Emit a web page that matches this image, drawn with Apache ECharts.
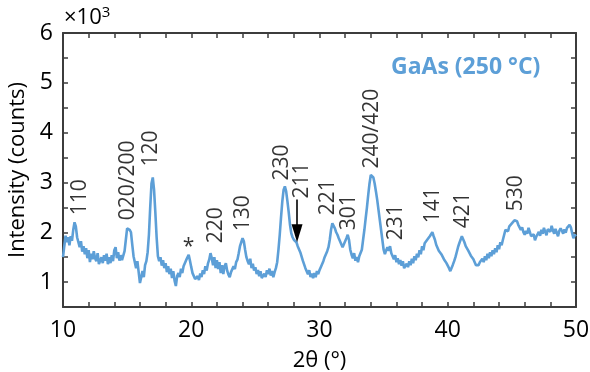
<!DOCTYPE html>
<html>
<head>
<meta charset="utf-8">
<style>
  html, body { margin: 0; padding: 0; background: #fff; }
  #chart { width: 590px; height: 372px; }
</style>
<script src="https://cdn.jsdelivr.net/npm/echarts@6/dist/echarts.min.js"></script>
</head>
<body>
<div id="chart"></div>
<script>
// XRD pattern of GaAs deposited at 250 °C; intensity in units of 10^3 counts
const twoTheta = [
  10.0,10.1,10.2,10.3,10.4,10.5,10.6,10.7,10.8,10.9,11.0,11.1,11.2,11.3,11.4,11.5,11.6,11.7,11.8,11.9,
  12.0,12.1,12.2,12.3,12.4,12.5,12.6,12.7,12.8,12.9,13.0,13.1,13.2,13.3,13.4,13.5,13.6,13.7,13.8,13.9,
  14.0,14.1,14.2,14.3,14.4,14.5,14.6,14.7,14.8,14.9,15.0,15.1,15.2,15.3,15.4,15.5,15.6,15.7,15.8,15.9,
  16.0,16.1,16.2,16.3,16.4,16.5,16.6,16.7,16.8,16.9,17.0,17.1,17.2,17.3,17.4,17.5,17.6,17.7,17.8,17.9,
  18.0,18.1,18.2,18.3,18.4,18.5,18.6,18.7,18.8,18.9,19.0,19.1,19.2,19.3,19.4,19.5,19.6,19.7,19.8,19.9,
  20.0,20.1,20.2,20.3,20.4,20.5,20.6,20.7,20.8,20.9,21.0,21.1,21.2,21.3,21.4,21.5,21.6,21.7,21.8,21.9,
  22.0,22.1,22.2,22.3,22.4,22.5,22.6,22.7,22.8,22.9,23.0,23.1,23.2,23.3,23.4,23.5,23.6,23.7,23.8,23.9,
  24.0,24.1,24.2,24.3,24.4,24.5,24.6,24.7,24.8,24.9,25.0,25.1,25.2,25.3,25.4,25.5,25.6,25.7,25.8,25.9,
  26.0,26.1,26.2,26.3,26.4,26.5,26.6,26.7,26.8,26.9,27.0,27.1,27.2,27.3,27.4,27.5,27.6,27.7,27.8,27.9,
  28.0,28.1,28.2,28.3,28.4,28.5,28.6,28.7,28.8,28.9,29.0,29.1,29.2,29.3,29.4,29.5,29.6,29.7,29.8,29.9,
  30.0,30.1,30.2,30.3,30.4,30.5,30.6,30.7,30.8,30.9,31.0,31.1,31.2,31.3,31.4,31.5,31.6,31.7,31.8,31.9,
  32.0,32.1,32.2,32.3,32.4,32.5,32.6,32.7,32.8,32.9,33.0,33.1,33.2,33.3,33.4,33.5,33.6,33.7,33.8,33.9,
  34.0,34.1,34.2,34.3,34.4,34.5,34.6,34.7,34.8,34.9,35.0,35.1,35.2,35.3,35.4,35.5,35.6,35.7,35.8,35.9,
  36.0,36.1,36.2,36.3,36.4,36.5,36.6,36.7,36.8,36.9,37.0,37.1,37.2,37.3,37.4,37.5,37.6,37.7,37.8,37.9,
  38.0,38.1,38.2,38.3,38.4,38.5,38.6,38.7,38.8,38.9,39.0,39.1,39.2,39.3,39.4,39.5,39.6,39.7,39.8,39.9,
  40.0,40.1,40.2,40.3,40.4,40.5,40.6,40.7,40.8,40.9,41.0,41.1,41.2,41.3,41.4,41.5,41.6,41.7,41.8,41.9,
  42.0,42.1,42.2,42.3,42.4,42.5,42.6,42.7,42.8,42.9,43.0,43.1,43.2,43.3,43.4,43.5,43.6,43.7,43.8,43.9,
  44.0,44.1,44.2,44.3,44.4,44.5,44.6,44.7,44.8,44.9,45.0,45.1,45.2,45.3,45.4,45.5,45.6,45.7,45.8,45.9,
  46.0,46.1,46.2,46.3,46.4,46.5,46.6,46.7,46.8,46.9,47.0,47.1,47.2,47.3,47.4,47.5,47.6,47.7,47.8,47.9,
  48.0,48.1,48.2,48.3,48.4,48.5,48.6,48.7,48.8,48.9,49.0,49.1,49.2,49.3,49.4,49.5,49.6,49.7,49.8,49.9,
  50.0
];
const intensity = [
  1.50,1.72,1.93,1.80,1.90,1.74,1.92,1.83,2.05,2.20,2.12,1.90,1.86,1.70,1.82,1.61,1.72,1.56,1.68,1.48,
  1.64,1.40,1.57,1.46,1.62,1.48,1.42,1.58,1.36,1.33,1.50,1.38,1.54,1.43,1.57,1.36,1.50,1.38,1.54,1.42,
  1.64,1.70,1.48,1.60,1.43,1.54,1.44,1.41,1.62,1.85,2.08,2.12,2.05,2.00,1.75,1.52,1.48,1.28,1.42,1.20,
  0.98,1.10,1.22,1.10,1.34,1.42,1.60,1.95,2.50,2.98,3.10,2.85,2.40,1.90,1.52,1.42,1.50,1.33,1.44,1.28,
  1.38,1.20,1.32,1.16,1.27,1.08,1.22,1.03,0.92,1.12,1.18,1.10,1.27,1.18,1.32,1.33,1.44,1.46,1.55,1.43,
  1.30,1.18,1.16,1.06,1.02,1.12,1.04,1.17,1.10,1.24,1.16,1.32,1.23,1.37,1.45,1.58,1.48,1.34,1.50,1.28,
  1.44,1.26,1.40,1.18,1.34,1.16,1.32,1.38,1.23,1.15,1.10,1.20,1.22,1.32,1.26,1.40,1.45,1.58,1.72,1.80,
  1.88,1.82,1.65,1.50,1.42,1.36,1.47,1.28,1.37,1.23,1.30,1.16,1.24,1.12,1.22,1.08,1.06,1.17,1.10,1.24,
  1.16,1.27,1.13,1.22,1.10,1.20,1.28,1.40,1.65,1.95,2.30,2.62,2.85,2.92,2.82,2.62,2.40,2.15,1.98,1.90,
  1.85,1.88,1.80,1.72,1.76,1.60,1.57,1.43,1.40,1.28,1.26,1.16,1.24,1.10,1.17,1.08,1.18,1.10,1.22,1.16,
  1.24,1.30,1.27,1.42,1.50,1.46,1.62,1.70,1.85,2.05,2.18,2.20,2.08,2.00,1.95,1.88,1.82,1.78,1.70,1.76,
  1.80,1.88,1.95,1.85,1.65,1.55,1.48,1.58,1.43,1.50,1.40,1.52,1.55,1.65,1.85,2.05,2.28,2.50,2.75,2.98,
  3.15,3.18,3.10,2.98,2.82,2.65,2.45,2.25,2.05,1.85,1.65,1.56,1.64,1.70,1.63,1.72,1.58,1.56,1.46,1.54,
  1.40,1.48,1.36,1.44,1.33,1.42,1.28,1.27,1.37,1.30,1.42,1.34,1.47,1.38,1.52,1.44,1.57,1.50,1.64,1.56,
  1.72,1.64,1.78,1.80,1.85,1.88,1.92,1.95,2.00,1.92,1.85,1.75,1.72,1.63,1.62,1.56,1.54,1.46,1.44,1.38,
  1.36,1.28,1.22,1.26,1.35,1.42,1.50,1.60,1.70,1.78,1.85,1.92,1.88,1.80,1.72,1.76,1.63,1.62,1.53,1.52,
  1.46,1.44,1.34,1.30,1.34,1.40,1.36,1.47,1.40,1.52,1.44,1.57,1.48,1.60,1.52,1.64,1.56,1.68,1.60,1.74,
  1.66,1.80,1.74,1.85,1.95,2.05,2.08,2.02,2.12,2.15,2.18,2.22,2.24,2.20,2.22,2.15,2.10,2.05,2.10,2.00,
  1.95,2.03,1.97,2.09,2.01,1.92,1.88,1.96,1.84,1.91,1.95,2.01,1.93,2.05,1.97,2.09,2.01,1.94,2.06,2.10,
  2.01,2.13,2.04,1.97,2.07,1.99,1.92,2.03,2.08,2.03,1.97,2.06,1.99,2.09,2.12,2.15,2.10,1.98,1.88,1.95,
  1.92
];

// Reflection labels: text, 2θ anchor, intensity where the text begins
const peakNames = ['110','020/200','120','220','130','230','211','221','301','240/420','231','141','421','530'];
const peakTheta = [11.35, 15.05, 16.84, 21.95, 24.06, 27.1, 28.66, 30.68, 32.32, 34.11, 35.95, 38.87, 41.21, 45.3];
const peakLabelY = [2.34, 2.24, 3.32, 1.78, 2.02, 3.04, 2.68, 2.34, 2.04, 3.28, 1.84, 2.18, 2.08, 2.42];

// Impurity marker
const starTheta = 19.79;
const starY = 1.70;

// Arrow pointing at the 211 shoulder
const arrowTheta = 28.25;
const arrowFrom = 2.66;
const arrowTo = 1.98;

const xTicks = [10, 20, 30, 40, 50];
const yTicks = [1, 2, 3, 4, 5, 6];

const FONT = '"Open Sans", "Noto Sans", sans-serif';
const BLUE = '#5d9fd7';
const AXIS = '#3c3c3c';
const INK = '#000';

const chart = echarts.init(document.getElementById('chart'), null, { renderer: 'canvas' });

const axisCommon = {
  axisLine: { show: true, onZero: false, lineStyle: { color: AXIS, width: 2 } },
  axisTick: { show: true, inside: true, length: 5, lineStyle: { color: AXIS, width: 1.5 } },
  splitLine: { show: false }
};

chart.setOption({
  animation: false,
  backgroundColor: '#fff',
  grid: { left: 63, right: 14, top: 33, bottom: 65, containLabel: false, outerBoundsMode: 'none' },
  xAxis: [
    Object.assign({
      type: 'value', min: 10, max: 50, interval: 2, position: 'bottom',
      name: '2θ (°)', nameLocation: 'middle', nameGap: 43,
      nameTextStyle: { fontFamily: FONT, fontSize: 22, color: INK },
      axisLabel: {
        fontFamily: FONT, fontSize: 23, color: INK, margin: 12,
        formatter: v => (xTicks.indexOf(v) >= 0 ? String(v) : '')
      }
    }, axisCommon),
    Object.assign({
      type: 'value', min: 10, max: 50, interval: 2, position: 'top',
      axisLabel: { show: false }
    }, axisCommon)
  ],
  yAxis: [
    Object.assign({
      type: 'value', min: 0.5, max: 6, interval: 0.5, position: 'left',
      name: 'Intensity (counts)', nameLocation: 'middle', nameGap: 32,
      nameTextStyle: { fontFamily: FONT, fontSize: 22, color: INK },
      axisLabel: {
        fontFamily: FONT, fontSize: 23, color: INK, margin: 10,
        formatter: v => (yTicks.indexOf(v) >= 0 ? String(v) : '')
      }
    }, axisCommon),
    Object.assign({
      type: 'value', min: 0.5, max: 6, interval: 0.5, position: 'right',
      axisLabel: { show: false }
    }, axisCommon)
  ],
  graphic: [
    {
      type: 'text', left: 64, top: 5,
      style: {
        text: '×10{sup|3}', fontFamily: FONT, fontSize: 22, fill: INK,
        rich: { sup: { fontFamily: FONT, fontSize: 15, verticalAlign: 'top', padding: [0, 0, 10, 0] } }
      }
    },
    {
      type: 'text', left: 391, top: 56,
      style: { text: 'GaAs (250 °C)', fontFamily: FONT, fontSize: 23, fontWeight: 'bold', fill: BLUE }
    }
  ],
  series: [
    {
      type: 'line',
      name: 'GaAs (250 °C)',
      data: twoTheta.map((t, i) => [t, intensity[i]]),
      showSymbol: false,
      smooth: false,
      lineStyle: { color: BLUE, width: 2.6 },
      z: 3,
      markLine: {
        silent: true,
        symbol: ['none', 'triangle'],
        symbolSize: [11, 18],
        label: { show: false },
        lineStyle: { color: '#000', width: 1.6, type: 'solid' },
        itemStyle: { color: '#000' },
        data: [[{ coord: [arrowTheta, arrowFrom] }, { coord: [arrowTheta, arrowTo] }]]
      }
    },
    {
      type: 'scatter',
      symbolSize: 0,
      silent: true,
      z: 4,
      data: peakNames.map((n, i) => ({ value: [peakTheta[i], peakLabelY[i]], name: n })),
      label: {
        show: true, position: 'inside', rotate: 90,
        align: 'left', verticalAlign: 'middle',
        formatter: p => p.name,
        fontFamily: FONT, fontSize: 21, color: INK,
        textBorderWidth: 0
      }
    },
    {
      type: 'scatter',
      symbolSize: 0,
      silent: true,
      z: 4,
      data: [{ value: [starTheta, starY], name: '*' }],
      label: {
        show: true, position: 'inside',
        align: 'center', verticalAlign: 'middle',
        formatter: '*', fontFamily: FONT, fontSize: 21, color: INK,
        textBorderWidth: 0
      }
    }
  ]
});
</script>
</body>
</html>
